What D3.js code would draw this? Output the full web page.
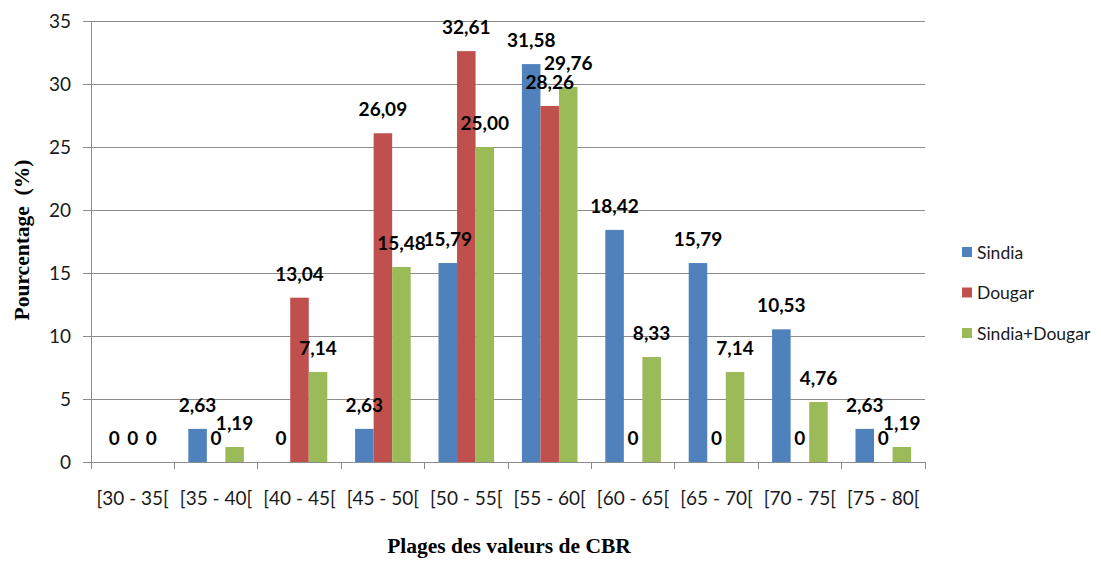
<!DOCTYPE html>
<html>
<head>
<meta charset="utf-8">
<script src="https://cdn.jsdelivr.net/npm/d3@7/dist/d3.min.js"></script>
<style>
  html, body { margin: 0; padding: 0; background: #fff; }
  svg { display: block; }
</style>
</head>
<body>
<svg id="chart" width="1101" height="561"></svg>
<script>
// CBR value ranges and share of samples per site (%)
const categories = ["[30 - 35[", "[35 - 40[", "[40 - 45[", "[45 - 50[", "[50 - 55[",
                    "[55 - 60[", "[60 - 65[", "[65 - 70[", "[70 - 75[", "[75 - 80["];
const seriesNames = ["Sindia", "Dougar", "Sindia+Dougar"];
const sindia = [0, 2.63, 0, 2.63, 15.79, 31.58, 18.42, 15.79, 10.53, 2.63];
const dougar = [0, 0, 13.04, 26.09, 32.61, 28.26, 0, 0, 0, 0];
const sindiaDougar = [0, 1.19, 7.14, 15.48, 25.00, 29.76, 8.33, 7.14, 4.76, 1.19];
const yTicks = [0, 5, 10, 15, 20, 25, 30, 35];
const colors = ["#4F81BD", "#C0504D", "#9BBB59"];

const seriesValues = [sindia, dougar, sindiaDougar];

const svg = d3.select("#chart");
const plot = { left: 91, right: 925, top: 21, bottom: 462 };

const x0 = d3.scaleBand().domain(categories)
  .range([plot.left, plot.right]).paddingInner(0).paddingOuter(0);
const x1 = d3.scaleBand().domain(seriesNames)
  .range([0, x0.bandwidth()]).paddingOuter(0.75).paddingInner(0);
const y = d3.scaleLinear().domain([0, 35]).range([plot.bottom, plot.top]);

const labelFont = "Lato, 'Open Sans', sans-serif";
const locale = d3.formatLocale({ decimal: ",", thousands: " ", grouping: [3], currency: ["", "€"] });
const fmt2 = locale.format(".2f");
const fmtLabel = v => v === 0 ? "0" : fmt2(v);

// gridlines
svg.append("g")
  .selectAll("line").data(yTicks.filter(t => t > 0)).join("line")
  .attr("x1", plot.left).attr("x2", plot.right)
  .attr("y1", d => y(d)).attr("y2", d => y(d))
  .attr("stroke", "#8c8c8c").attr("stroke-width", 1).attr("shape-rendering", "crispEdges");

// y axis
const yAxis = svg.append("g")
  .attr("transform", `translate(${plot.left},0)`)
  .call(d3.axisLeft(y).tickValues(yTicks).tickSize(8).tickPadding(12));
yAxis.select(".domain").attr("stroke", "#8c8c8c").attr("shape-rendering", "crispEdges");
yAxis.selectAll(".tick line").attr("stroke", "#8c8c8c").attr("shape-rendering", "crispEdges");
yAxis.selectAll(".tick text")
  .attr("font-family", labelFont).attr("font-size", 19).attr("fill", "#1a1a1a");

// x axis with ticks at category boundaries
const xAxis = svg.append("g")
  .attr("transform", `translate(0,${plot.bottom})`);
xAxis.append("line")
  .attr("x1", plot.left).attr("x2", plot.right)
  .attr("stroke", "#8c8c8c").attr("shape-rendering", "crispEdges");
const boundaries = categories.map(c => x0(c)).concat([x0(categories[categories.length - 1]) + x0.bandwidth()]);
xAxis.selectAll("line.tick").data(boundaries).join("line")
  .attr("class", "tick")
  .attr("x1", d => d).attr("x2", d => d).attr("y1", 0).attr("y2", 7)
  .attr("stroke", "#8c8c8c").attr("shape-rendering", "crispEdges");
xAxis.selectAll("text").data(categories).join("text")
  .attr("x", d => x0(d) + x0.bandwidth() / 2)
  .attr("y", 43)
  .attr("text-anchor", "middle")
  .attr("font-family", labelFont).attr("font-size", 19).attr("fill", "#1a1a1a")
  .text(d => d);

// bars
const groups = svg.append("g").selectAll("g").data(categories).join("g")
  .attr("transform", d => `translate(${x0(d)},0)`);
groups.selectAll("rect")
  .data((c, i) => seriesNames.map((s, k) => ({ s, k, v: seriesValues[k][i] })))
  .join("rect")
  .attr("x", d => x1(d.s))
  .attr("width", x1.bandwidth())
  .attr("y", d => y(d.v))
  .attr("height", d => y(0) - y(d.v))
  .attr("fill", d => colors[d.k]);

// value labels
groups.selectAll("text")
  .data((c, i) => seriesNames.map((s, k) => ({ s, k, v: seriesValues[k][i] })))
  .join("text")
  .attr("x", d => x1(d.s) + x1.bandwidth() / 2)
  .attr("y", d => y(d.v) - 17)
  .attr("text-anchor", "middle")
  .attr("font-family", labelFont).attr("font-weight", "bold").attr("font-size", 19)
  .attr("fill", "#000")
  .text(d => fmtLabel(d.v));

// axis titles
svg.append("text")
  .attr("x", 509).attr("y", 553)
  .attr("text-anchor", "middle")
  .attr("font-family", "'Liberation Serif', serif").attr("font-weight", "bold").attr("font-size", 21.5)
  .text("Plages des valeurs de CBR");
svg.append("text")
  .attr("transform", "translate(29,240) rotate(-90)")
  .attr("text-anchor", "middle")
  .attr("font-family", "'Liberation Serif', serif").attr("font-weight", "bold").attr("font-size", 21.5)
  .style("white-space", "pre")
  .text("Pourcentage  (%)");

// legend
const legend = svg.append("g").selectAll("g").data(seriesNames).join("g")
  .attr("transform", (d, i) => `translate(962,${252 + i * 40.5})`);
legend.append("rect")
  .attr("x", 0).attr("y", -5).attr("width", 10).attr("height", 10)
  .attr("fill", (d, i) => colors[i]);
legend.append("text")
  .attr("x", 15).attr("y", 6.5)
  .attr("font-family", labelFont).attr("font-size", 17.5).attr("fill", "#1a1a1a")
  .text(d => d);
</script>
</body>
</html>
